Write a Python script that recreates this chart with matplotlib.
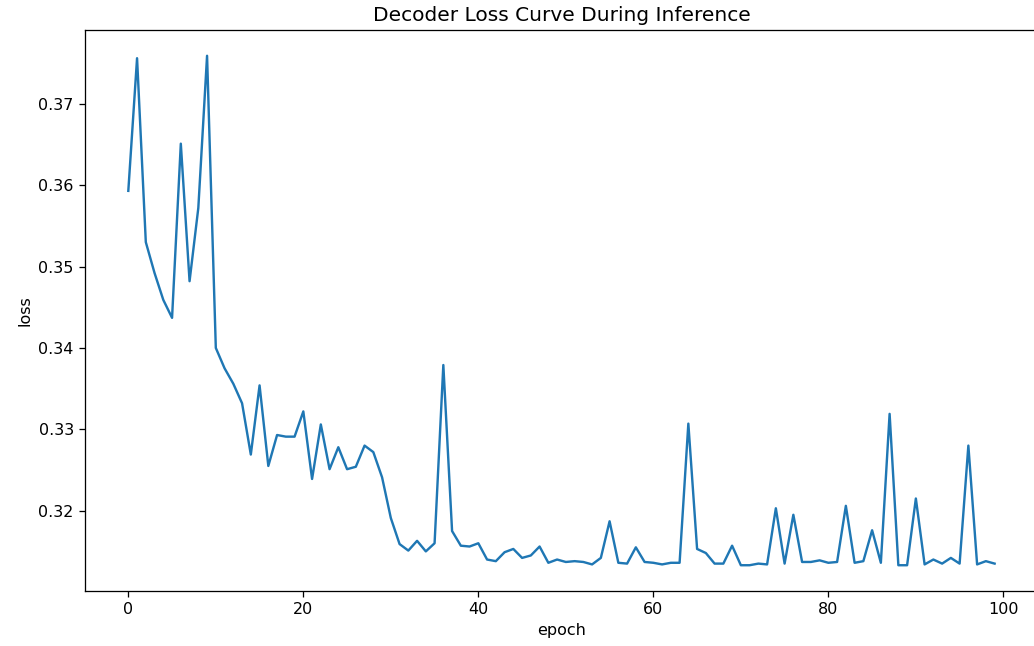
"""Decoder loss curve during inference (100 epochs)."""

import matplotlib

matplotlib.use("Agg")
import matplotlib.pyplot as plt

# loss per epoch
epochs = list(range(100))
loss = [
    0.3593, 0.3756, 0.3530, 0.3492, 0.3459, 0.3437, 0.3651, 0.3482, 0.3572, 0.3759,
    0.3400, 0.3375, 0.3356, 0.3332, 0.3269, 0.3354, 0.3255, 0.3293, 0.3291, 0.3291,
    0.3322, 0.3239, 0.3306, 0.3251, 0.3278, 0.3251, 0.3254, 0.3280, 0.3272, 0.3241,
    0.3191, 0.3159, 0.3151, 0.3163, 0.3150, 0.3160, 0.3379, 0.3175, 0.3157, 0.3156,
    0.3160, 0.3140, 0.3138, 0.3149, 0.3153, 0.3142, 0.3145, 0.3156, 0.3136, 0.3140,
    0.3137, 0.3138, 0.3137, 0.3134, 0.3142, 0.3187, 0.3136, 0.3135, 0.3155, 0.3137,
    0.3136, 0.3134, 0.3136, 0.3136, 0.3307, 0.3153, 0.3148, 0.3135, 0.3135, 0.3157,
    0.3133, 0.3133, 0.3135, 0.3134, 0.3203, 0.3135, 0.3195, 0.3137, 0.3137, 0.3139,
    0.3136, 0.3137, 0.3206, 0.3136, 0.3138, 0.3176, 0.3136, 0.3319, 0.3133, 0.3133,
    0.3215, 0.3134, 0.3140, 0.3135, 0.3142, 0.3135, 0.3280, 0.3134, 0.3138, 0.3135,
]

fig = plt.figure(figsize=(1034 / 115, 646 / 115), dpi=115)
# the original screenshot cuts the axes box off at the right edge
ax = fig.add_axes([0.0822, 0.0856, 0.9216, 0.8675])
ax.plot(epochs, loss)
ax.set_title("Decoder Loss Curve During Inference", fontsize=12.6)
ax.set_xlabel("epoch")
ax.set_ylabel("loss")

fig.savefig("out.png", dpi=115)
